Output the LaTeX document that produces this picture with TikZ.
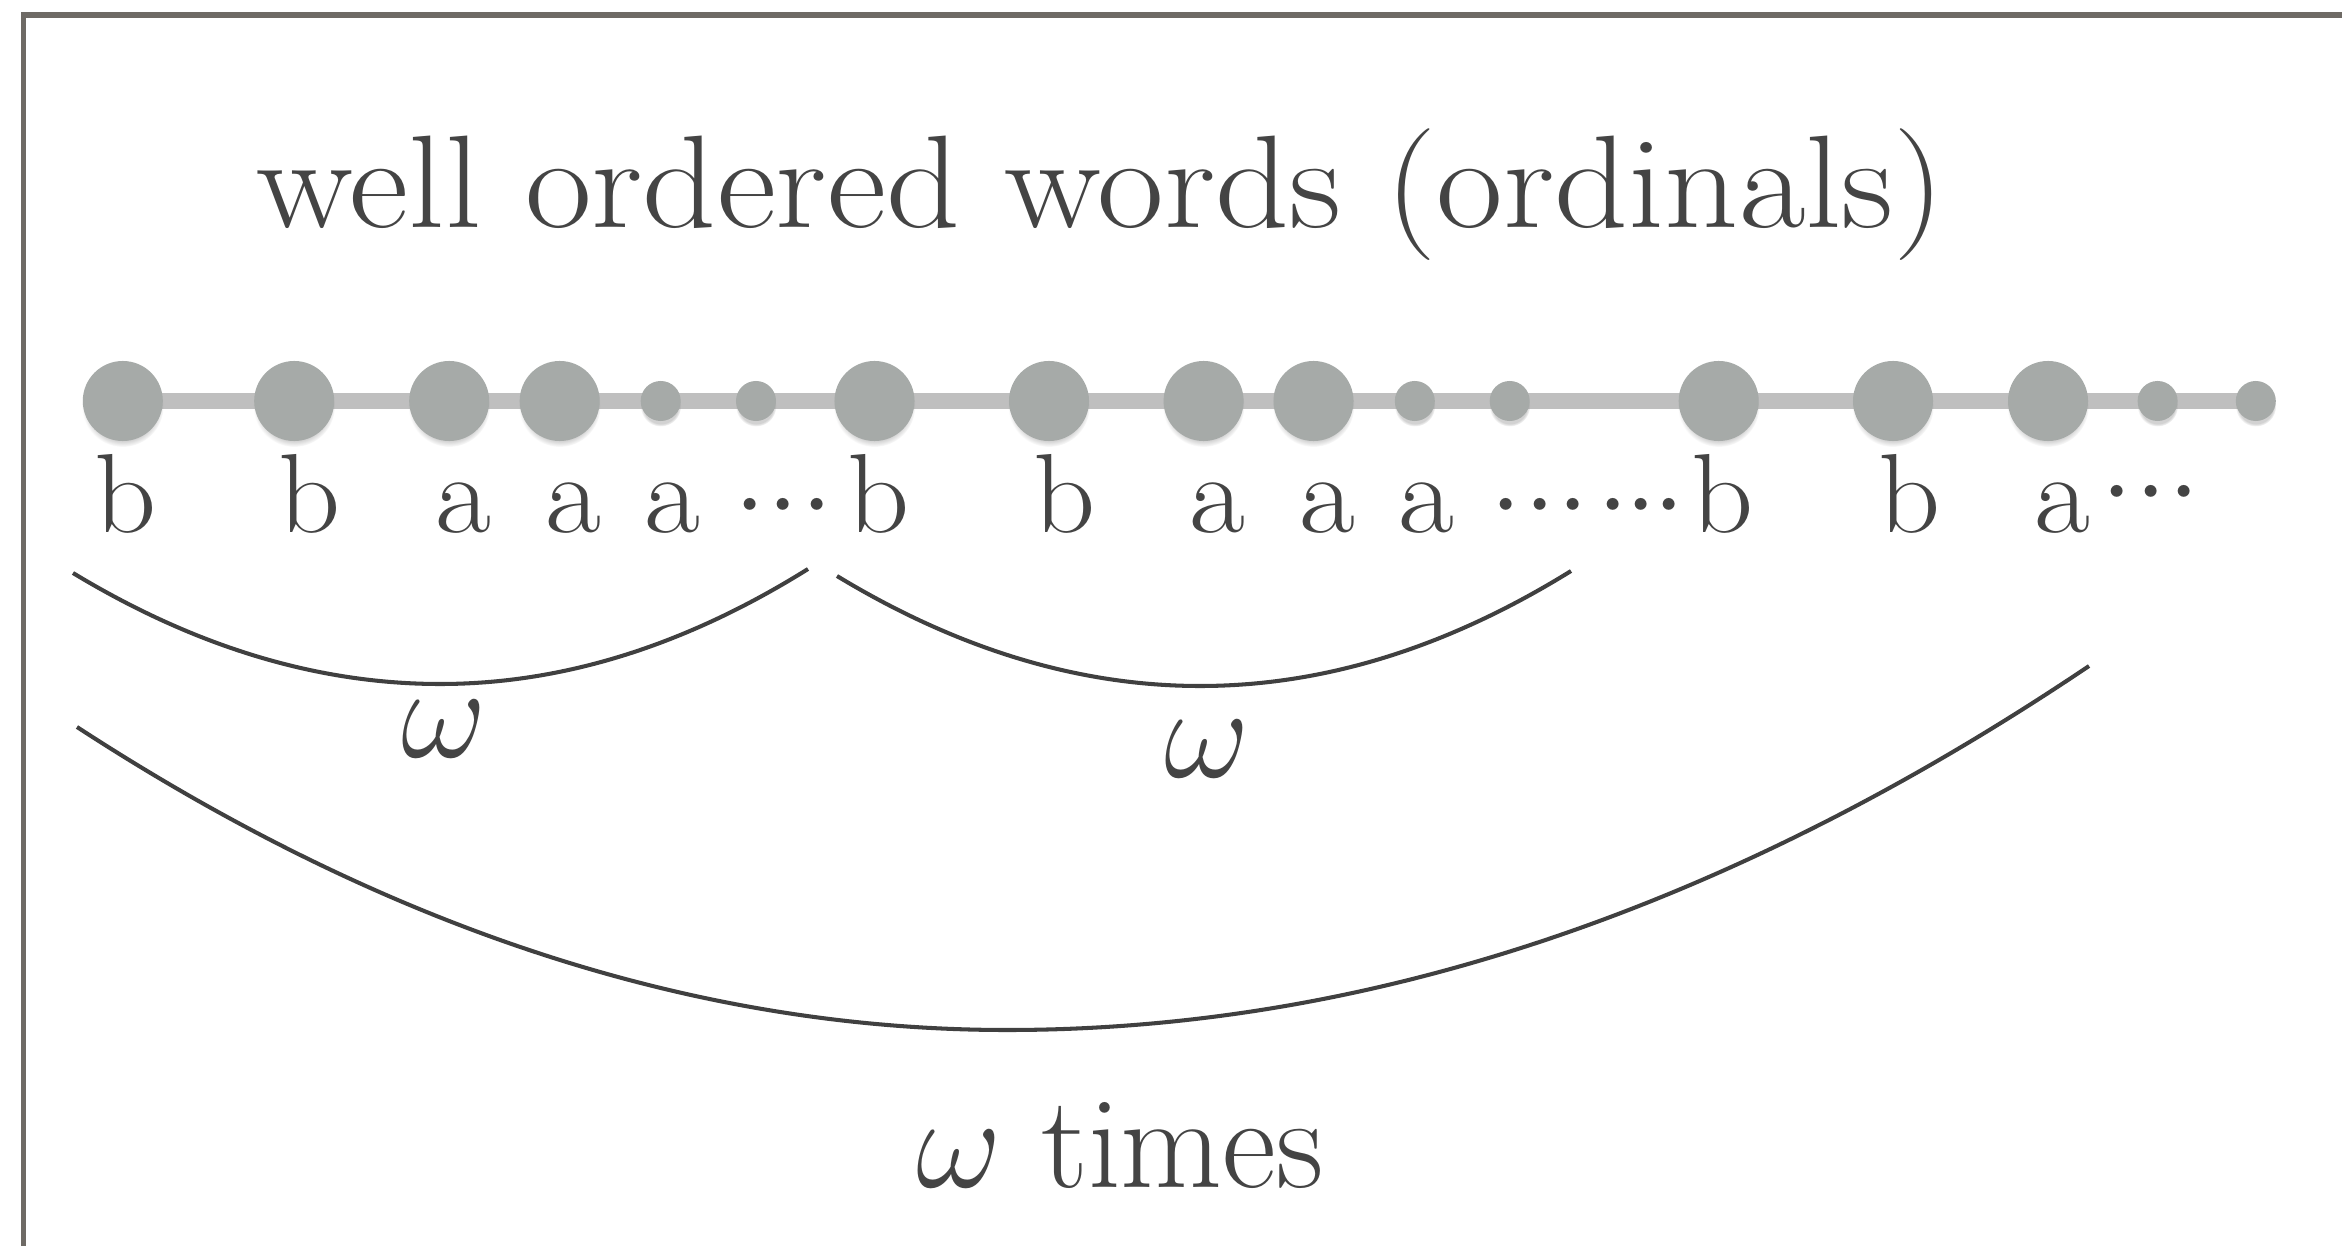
\documentclass[tikz,border=0pt]{standalone}
\usepackage{fix-cm}
\usepackage{graphicx}
\usetikzlibrary{shadows,backgrounds}
\definecolor{txtcol}{HTML}{444444}
\definecolor{framecol}{HTML}{6E6A65}
\definecolor{beadcol}{HTML}{A6AAA8}
\definecolor{rodcol}{HTML}{BFBFBF}
\definecolor{arccol}{HTML}{404040}
\newcommand{\wide}[1]{\scalebox{1.08}[1]{#1}}
\newcommand{\dotsA}{$\cdotp\mkern-2.6mu\cdotp\mkern-2.6mu\cdotp$}
\newcommand{\dotsB}{$\cdotp\mkern-3.5mu\cdotp\mkern-3.5mu\cdotp$}
\begin{document}
\begin{tikzpicture}[x=0.01cm,y=-0.01cm,
  bigbead/.style={circle,fill=beadcol,minimum size=0.8cm,inner sep=0pt,
    circular drop shadow={shadow xshift=0pt,shadow yshift=-0.05cm,shadow scale=1.02,opacity=0.35}},
  smallbead/.style={bigbead,minimum size=0.4cm},
  letter/.style={anchor=base,inner sep=0pt,text=txtcol,font=\fontsize{32}{38}\selectfont},
  bigtext/.style={anchor=base,inner sep=0pt,text=txtcol,font=\fontsize{37.5}{45}\selectfont},
  brace/.style={draw=arccol,line width=1.15pt},
  rodline/.style={draw=rodcol,line width=4.4pt}]
\useasboundingbox (0,0) rectangle (2342,1246);
\begin{pgfonlayer}{background}
  \fill[white] (0,0) rectangle (2342,1246);
\end{pgfonlayer}
\begin{scope}
  \clip (0,0) rectangle (2342,1246);
  \draw[framecol,line width=1.45pt] (23.5,15) rectangle (2400,1300);
\end{scope}

% title
\node[bigtext] (title) at (1101,228) {\scalebox{1.1}[1]{well ordered words (ordinals)}};

% beads
\node[bigbead]   (b1)  at (122.8,401) {};
\node[bigbead]   (b2)  at (294.2,401) {};
\node[bigbead]   (b3)  at (449.2,401) {};
\node[bigbead]   (b4)  at (559.7,401) {};
\node[smallbead] (b5)  at (660.7,401) {};
\node[smallbead] (b6)  at (756,401) {};
\node[bigbead]   (b7)  at (874.5,401) {};
\node[bigbead]   (b8)  at (1049,401) {};
\node[bigbead]   (b9)  at (1203.6,401) {};
\node[bigbead]   (b10) at (1313.5,401) {};
\node[smallbead] (b11) at (1414.8,401) {};
\node[smallbead] (b12) at (1509.7,401) {};
\node[bigbead]   (b13) at (1718.7,401) {};
\node[bigbead]   (b14) at (1893,401) {};
\node[bigbead]   (b15) at (2048,401) {};
\node[smallbead] (b16) at (2157.6,401) {};
\node[smallbead] (b17) at (2255.8,401) {};
\begin{pgfonlayer}{background}
  \draw[rodline] (b1.center) -- (b17.center);
\end{pgfonlayer}

% letters
\node[letter] (l1)  at (125.7,533) {\wide{b}};
\node[letter] (l2)  at (310,533) {\wide{b}};
\node[letter] (l3)  at (463.6,533) {\wide{a}};
\node[letter] (l4)  at (573.5,533) {\wide{a}};
\node[letter] (l5)  at (672,533) {\wide{a}};
\node[letter] (d1)  at (783.6,533) {\dotsA};
\node[letter] (l7)  at (878.6,533) {\wide{b}};
\node[letter] (l8)  at (1065,533) {\wide{b}};
\node[letter] (l9)  at (1217.6,533) {\wide{a}};
\node[letter] (l10) at (1327.6,533) {\wide{a}};
\node[letter] (l11) at (1426,533) {\wide{a}};
\node[letter] (d2)  at (1540,533) {\dotsA};
\node[letter] (d3)  at (1641,533) {\dotsB};
\node[letter] (l13) at (1723,533) {\wide{b}};
\node[letter] (l14) at (1910,533) {\wide{b}};
\node[letter] (l15) at (2062,533) {\wide{a}};
\node[letter] (d4)  at (2151,520) {\dotsA};

% braces
\coordinate (s1) at (73,573);   \coordinate (v1) at (440,684);  \coordinate (e1) at (808,569);
\coordinate (s2) at (837,576);  \coordinate (v2) at (1200,686); \coordinate (e2) at (1571,571);
\coordinate (s3) at (77,727);   \coordinate (v3) at (1007,1030); \coordinate (e3) at (2089,666);
\draw[brace] (s1) .. controls (195.3,647) and (317.7,684) .. (v1)
                  .. controls (562.7,684) and (685.3,645.7) .. (e1);
\draw[brace] (s2) .. controls (958,649.3) and (1079,686) .. (v2)
                  .. controls (1323.7,686) and (1447.3,647.7) .. (e2);
\draw[brace] (s3) .. controls (387,929) and (697,1030) .. (v3)
                  .. controls (1368,1030) and (1728,909) .. (e3);

% labels
\node[bigtext] (w1) at (444,757) {$\omega$};
\node[bigtext] (w2) at (1207,777) {$\omega$};
\node[bigtext] (w3) at (1120,1187) {$\omega$ times};
\end{tikzpicture}
\end{document}
